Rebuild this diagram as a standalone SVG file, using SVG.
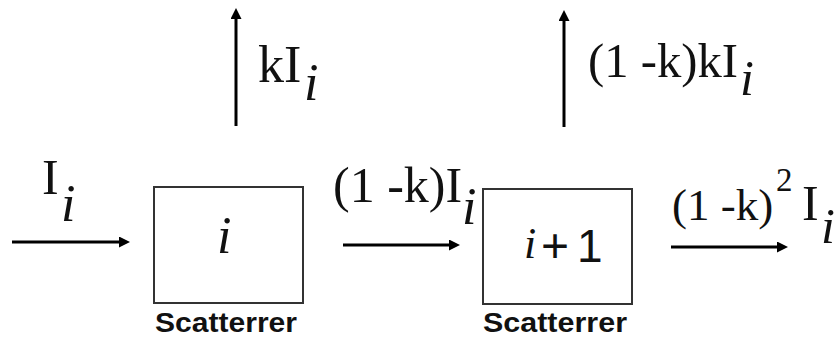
<svg xmlns="http://www.w3.org/2000/svg" width="838" height="345" viewBox="0 0 838 345">
<style>
.serif{font-family:"Liberation Serif","Times New Roman",serif;fill:#111}
.it{font-style:italic}
.sans{font-family:"Liberation Sans",Arial,sans-serif;fill:#111}
.lbl{font-family:"Liberation Sans",Arial,sans-serif;font-weight:bold;font-size:28px;fill:#111}
.box{fill:#fff;stroke:#333;stroke-width:2}
.arr{stroke:#000;stroke-width:3;fill:none;marker-end:url(#ah)}
</style>
<defs>
<marker id="ah" markerUnits="userSpaceOnUse" markerWidth="11" markerHeight="11" refX="4" refY="5.5" orient="auto">
<path d="M0,0 L11,5.5 L0,11 z" fill="#000"/>
</marker>
</defs>
<rect width="838" height="345" fill="#fff"/>
<g id="connectors">
<line class="arr" x1="12" y1="242" x2="123" y2="242"/>
<line class="arr" x1="343" y1="245" x2="453" y2="245"/>
<line class="arr" x1="671" y1="247" x2="781" y2="247"/>
<line class="arr" x1="236" y1="126" x2="236" y2="15"/>
<line class="arr" x1="564" y1="127" x2="564" y2="17"/>
</g>
<g id="scatterer-i">
<rect class="box" x="154" y="187" width="149" height="116"/>
<text class="serif it" x="217" y="253" font-size="52">i</text>
<text class="lbl" x="155" y="332" textLength="142" lengthAdjust="spacingAndGlyphs">Scatterrer</text>
</g>
<g id="scatterer-i1">
<rect class="box" x="483" y="189" width="149" height="115"/>
<text class="serif it" x="524" y="258" font-size="44">i</text>
<text class="sans" x="541" y="262" font-size="48">+</text>
<text class="sans" x="577" y="262" font-size="46">1</text>
<text class="lbl" x="483" y="332" textLength="144" lengthAdjust="spacingAndGlyphs">Scatterrer</text>
</g>
<g id="label-in">
<text class="serif" x="42" y="194" font-size="50">I</text>
<text class="serif it" x="61" y="221" font-size="52">i</text>
</g>
<g id="label-k">
<text class="serif" x="258" y="82" font-size="52">kI</text>
<text class="serif it" x="304" y="100" font-size="52">i</text>
</g>
<g id="label-mid">
<text class="serif" x="333" y="202" font-size="50">(1 -k)I</text>
<text class="serif it" x="462" y="224" font-size="52">i</text>
</g>
<g id="label-top2">
<text class="serif" x="588" y="77" font-size="48" textLength="150" lengthAdjust="spacingAndGlyphs">(1 -k)kI</text>
<text class="serif it" x="740" y="95" font-size="50">i</text>
</g>
<g id="label-out">
<text class="serif" x="672" y="220" font-size="45">(1 -k)</text>
<text class="serif" x="776" y="191" font-size="33">2</text>
<text class="serif" x="802" y="220" font-size="50">I</text>
<text class="serif it" x="821" y="243" font-size="50">i</text>
</g>
</svg>
